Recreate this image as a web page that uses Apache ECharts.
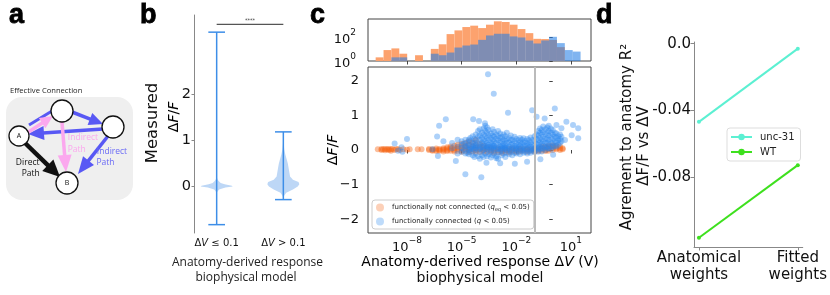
<!DOCTYPE html>
<html><head><meta charset="utf-8">
<script src="https://cdn.jsdelivr.net/npm/echarts@6/dist/echarts.min.js"></script>
<style>html,body{margin:0;padding:0;background:#fff}#c{width:830px;height:295px}</style>
</head><body><div id="c"></div>
<script>
// ===== Panel b: violin data =====
const violinCategories = ['ΔV ≤ 0.1', 'ΔV > 0.1'];
const violinPositions = [1, 2];
const violinMin = [-0.82, -0.28];
const violinMax = [3.33, 1.18];
const violinLevelsLow  = [-0.82, -0.3, -0.12, -0.06, -0.02, 0.0, 0.02, 0.05, 0.08, 0.12, 0.16, 0.2, 0.4, 3.33];
const violinDensityLow = [0, 0.0, 0.02, 0.15, 0.55, 1.0, 0.95, 0.5, 0.25, 0.12, 0.05, 0.01, 0, 0];
const violinLevelsHigh  = [-0.28, -0.2, -0.13, -0.06, 0.0, 0.05, 0.1, 0.15, 0.22, 0.3, 0.4, 0.5, 0.6, 0.7, 0.8, 0.9, 1.0, 1.18];
const violinDensityHigh = [0, 0.04, 0.18, 0.6, 0.9, 1.0, 0.95, 0.6, 0.42, 0.38, 0.33, 0.28, 0.2, 0.12, 0.06, 0.03, 0.01, 0];
const significanceLevel = 3.5;
const significanceText = '****';

// ===== Panel c: histogram (counts per log-spaced bin) =====
const histLogMin = -9.72, histLogMax = 1.528, histBinCount = 26;
const histNotConnected = [2, 8, 11, 4, 0, 3, 0, 10, 24, 167, 338, 640, 830, 525, 1000, 1900, 1660, 1000, 436, 200, 68, 65, 55, 14, 0, 0];
const histConnected    = [0, 0, 2, 2, 0, 0, 0, 4, 3, 5, 13, 19, 23, 56, 129, 178, 178, 107, 88, 49, 28, 50, 100, 30, 8, 6];

// ===== Panel c: scatter (ΔV, ΔF/F) grouped by ΔV =====
const notConnectedPts = [
 [2.5e-10,[0.02]],[4e-10,[0.0,0.03]],[5e-10,[0.02]],[6.3e-10,[-0.01,0.03]],[8e-10,[0.02]],[1e-9,[0.0,0.03]],
 [1.3e-9,[0.02,-0.02]],[1.6e-9,[0.03]],[2e-9,[0.0]],[2.5e-9,[0.02]],[3.2e-9,[0.03]],[4e-9,[0.0]],[6.3e-9,[0.02]],[1e-8,[0.01]],
 [1.4e-8,[0.02]],[3.9e-8,[0.02]],[6.3e-8,[0.02]],
 [1.6e-7,[0.0,0.03]],[2.5e-7,[-0.02,0.02,0.0]],[4e-7,[0.01,-0.03,0.04]],[6e-7,[0.0,0.03,-0.02]],
 [1e-6,[0.02,-0.04,0.05,0.0]],[1.6e-6,[0.0,0.04,-0.03,0.08]],[2.5e-6,[0.02,-0.02,0.06,0.1]],[4e-6,[0.0,0.05,-0.04,0.12]],
 [6e-6,[0.03,-0.02,0.08,0.15]],[1e-5,[0.0,0.06,-0.05,0.18,0.1]],[1.6e-5,[0.02,0.08,-0.03,0.2,0.12]],
 [2.5e-5,[0.0,0.05,0.15,-0.06,0.25]],[4e-5,[0.03,0.1,-0.04,0.22]],[6e-5,[0.0,0.06,0.14,-0.05,0.3]],
 [1e-4,[0.02,0.08,-0.06,0.18]],[1.6e-4,[0.0,0.05,-0.04,0.12]],[2.5e-4,[0.02,-0.06,0.08]],[4e-4,[0.0,-0.05,0.06]],
 [6e-4,[-0.02,0.04,-0.08]],[1e-3,[0.0,-0.06,0.05]],[1.6e-3,[-0.03,0.03,-0.08]],[2.5e-3,[0.0,-0.05,0.04]],
 [4e-3,[-0.02,0.03,-0.07]],[6e-3,[0.0,-0.04,0.05]],[1e-2,[-0.02,0.03,-0.06]],[1.6e-2,[0.0,-0.04,0.04]],
 [2.5e-2,[-0.02,0.03]],[4e-2,[0.0,-0.05,0.04]],[6e-2,[-0.02,0.02]],[0.1,[0.0,-0.04,0.04]],[0.16,[0.0,0.05,-0.03]],
 [0.25,[0.02,0.06,-0.02,0.1]],[0.4,[0.0,0.05,0.1,-0.03]],[0.6,[0.02,0.07,0.12,-0.02]],[1,[0.0,0.05,0.1,0.14]],
 [1.6,[0.02,0.06,0.12]],[2.5,[0.04,0.1,0.0]],[3.5,[0.05,0.02]]
];
const connectedPts = [
 [2.1e-9,[0.19]],[1e-8,[0.32]],[3.2e-9,[-0.02]],[5.6e-9,[-0.05]],[5e-9,[0.08]],
 [2.5e-7,[0.02]],[4.5e-7,[0.39]],[5e-7,[-0.17]],[5.8e-7,[0.7]],[1e-6,[0.25]],[1.35e-6,[0.89]],[4.8e-6,[-0.32]],
 [3e-6,[0.05,0.2]],[6e-6,[0.1,-0.1,0.3]],[1e-5,[0.15,-0.05,0.25,0.05]],[1.3e-5,[0.0,0.18]],[1.6e-5,[0.1,0.3,-0.1,-0.7]],
 [2e-5,[0.05,0.12,-0.08,0.22]],[2.5e-5,[0.0,0.15,0.3,-0.12]],[3e-5,[0.08,-0.05,0.25,0.35,0.02]],
 [4e-5,[0.1,0.18,-0.15,0.03,0.4]],[4.3e-5,[0.89]],[5e-5,[0.0,0.22,0.12,-0.2,0.32,0.06]],[6e-5,[0.05,0.28,-0.1,0.45,0.15]],
 [8e-5,[0.1,0.2,0.0,-0.18,0.38,0.55]],[9e-5,[0.84]],[1e-4,[0.05,0.3,0.15,-0.25,0.42,0.02,0.6]],[1.2e-4,[-0.79]],
 [1.3e-4,[0.1,0.22,-0.05,0.35,0.5,-0.15]],[1.6e-4,[0.0,0.18,0.3,0.45,-0.2,0.08,0.62]],[1.9e-4,[0.77]],
 [2e-4,[0.12,0.25,-0.1,0.4,0.55,0.03,0.7]],[2.3e-4,[-0.37]],[2.5e-4,[0.05,0.2,0.35,-0.18,0.5,0.1,0.65]],[2.8e-4,[2.19]],
 [3e-4,[0.0,0.15,0.28,0.42,-0.12,0.58,0.08]],[4e-4,[0.1,0.22,-0.05,0.35,0.48,0.02,-0.22]],
 [5e-4,[0.05,0.18,0.3,0.42,-0.15,0.12,0.6]],[5.8e-4,[1.63]],[6e-4,[0.0,0.12,0.25,0.38,-0.1,0.52,0.08]],
 [8e-4,[0.08,0.2,0.32,-0.18,0.45,0.02,-0.24]],[1e-3,[0.04,0.15,0.28,0.4,-0.08,0.55,-0.25]],
 [1.3e-3,[0.1,0.22,-0.05,0.35,0.02,0.48,-0.38]],[1.6e-3,[0.0,0.12,0.25,0.38,-0.15,0.06]],
 [2e-3,[0.05,0.18,0.3,-0.1,0.45,0.1]],[2.5e-3,[0.02,0.14,0.26,0.4,-0.2,0.08]],[3e-3,[0.06,0.2,0.32,-0.08,0.5,0.0]],
 [3.5e-3,[1.08]],[4e-3,[0.1,0.22,-0.12,0.35,0.04]],[5e-3,[0.0,0.15,0.28,-0.05,0.42]],[6e-3,[0.08,0.18,0.3,-0.15,0.02]],
 [8e-3,[0.04,0.12,0.25,0.38,-0.08]],[8.3e-3,[-0.4]],[1e-2,[0.0,0.1,0.2,0.32,-0.1,0.06]],[1.3e-2,[0.05,0.15,0.28,-0.05]],
 [1.6e-2,[0.02,0.12,0.22,0.35,-0.12]],[2e-2,[0.06,0.18,-0.02,0.3]],[2.5e-2,[0.0,0.1,0.22,-0.08,0.34]],
 [3e-2,[0.04,0.14,0.26,-0.05]],[3.9e-2,[-0.34]],[4e-2,[0.02,0.12,0.2,0.32,-0.1]],[5e-2,[0.06,0.16,-0.04,0.28]],
 [6e-2,[0.0,0.1,0.22,0.36,-0.08]],[7.4e-2,[1.15]],[8e-2,[0.05,0.15,0.3,-0.02]],[0.1,[0.02,0.12,0.25,0.4,-0.06]],
 [0.13,[0.08,0.18,0.32,0.45,0.0,0.96]],[0.16,[0.05,0.15,0.28,0.42,-0.05,0.55]],[0.2,[0.1,0.22,0.35,0.5,0.02,0.62]],
 [0.21,[-0.27]],[0.25,[0.06,0.18,0.3,0.45,0.58,-0.04]],[0.3,[0.12,0.25,0.38,0.52,0.04,0.68]],[0.36,[0.91]],
 [0.4,[0.08,0.2,0.32,0.45,0.6,0.0]],[0.5,[0.1,0.22,0.35,0.5,0.65,0.04]],[0.6,[0.05,0.18,0.3,0.42,0.55,0.7]],
 [0.8,[0.1,0.22,0.36,0.5,0.62,0.02]],[1,[0.08,0.2,0.32,0.45,0.58]],[1.05,[-0.14]],[1.3,[0.12,0.25,0.38,0.5,1.2]],
 [1.6,[0.1,0.22,0.35,0.48,0.72]],[2,[0.15,0.28,0.4]],[2.5,[0.2,0.32,0.45]],[3,[0.25,0.38,0.63]],
 [4.7,[0.29]],[5.6,[0.82]],[11,[0.43]],[13,[0.72]],[25,[0.63,0.34]]
];
const thresholdDV = 0.1;

// ===== Panel d =====
const dCategories = ['Anatomical\nweights', 'Fitted\nweights'];
const unc31Values = [-0.047, -0.003];
const wtValues = [-0.1166, -0.073];

// ===== axis tick values =====
const bTicks = [0, 1, 2];
const cXTicksExp = [-8, -5, -2, 1];
const cHistYTicksExp = [0, 2];
const cYTicks = [-2, -1, 0, 1, 2];
const dYTicks = [0, -0.04, -0.08];

// ---------- build ----------
const flat = g => { const out = []; g.forEach(([x, ys]) => ys.forEach(y => out.push([Math.log10(x), y]))); return out; };
const binW = (histLogMax - histLogMin) / histBinCount;
const histData = arr => arr.map((c, i) => [histLogMin + i * binW, histLogMin + (i + 1) * binW, c > 0 ? Math.log10(c) : -1]);

const FONT = 'DejaVu Sans';
const supRich = {
  b: {fontSize: 13, fontFamily: FONT, lineHeight: 18, verticalAlign: 'bottom', color: '#111'},
  s: {fontSize: 9, fontFamily: FONT, lineHeight: 10, verticalAlign: 'top', color: '#111'}
};
const expLabel = v => '{b|10}{s|' + (v < 0 ? '\u2212' + (-v) : v) + '}';

function arrow(x1, y1, x2, y2, color, lw, hl, hw) {
  const dx = x2 - x1, dy = y2 - y1, L = Math.hypot(dx, dy), ux = dx / L, uy = dy / L, px = -uy, py = ux;
  const bx = x2 - ux * hl, by = y2 - uy * hl;
  return [
    {type: 'line', shape: {x1, y1, x2: bx + ux, y2: by + uy}, style: {stroke: color, lineWidth: lw}},
    {type: 'polygon', shape: {points: [[x2, y2], [bx + px * hw / 2, by + py * hw / 2], [bx - px * hw / 2, by - py * hw / 2]]}, style: {fill: color}}
  ];
}
const BLUE = '#5858f4', PINK = '#fba8ee';
const diagram = [].concat(
  [{type: 'rect', shape: {x: 6, y: 97, width: 127, height: 103, r: 16}, style: {fill: '#efefef'}}],
  [{type: 'line', shape: {x1: 29, y1: 125, x2: 52, y2: 111}, style: {stroke: BLUE, lineWidth: 3}}],
  arrow(72, 112, 103, 124, BLUE, 3.5, 14, 13),
  arrow(103, 129, 28, 134, BLUE, 3.5, 16, 14),
  arrow(27, 133, 53, 116, PINK, 3.5, 13, 12),
  arrow(62, 122, 66, 172, PINK, 3.5, 17, 14),
  arrow(108, 136, 78, 174, BLUE, 3.5, 17, 14),
  arrow(24, 142, 60, 177, '#111', 4.5, 17, 16),
  [[62, 111, 11], [113, 127, 11], [19, 136, 10], [67, 183, 11]].map(c => ({type: 'circle', shape: {cx: c[0], cy: c[1], r: c[2]}, style: {fill: '#fff', stroke: '#111', lineWidth: 1.3}})),
  [
    ['Effective Connection', 10, 91, '#222', 'left', 7.6],
    ['A', 19, 136, '#111', 'center', 7], ['B', 67, 183, '#111', 'center', 7],
    ['Direct', 27.7, 163, '#111', 'center', 8.5], ['Path', 30.7, 174, '#111', 'center', 8.5],
    ['Indirect', 83, 138, PINK, 'center', 8.5], ['Path', 76.7, 149.5, PINK, 'center', 8.5],
    ['Indirect', 112, 152, '#6a6af6', 'center', 8.5], ['Path', 105.5, 162.5, '#6a6af6', 'center', 8.5]
  ].map(t => ({type: 'text', x: t[1], y: t[2], style: {text: t[0], fill: t[3], align: t[4], verticalAlign: 'middle', font: t[5] + 'px "Open Sans"'}}))
);

const letters = [['a', 9], ['b', 140], ['c', 310], ['d', 596]].map(l => ({
  type: 'text', x: l[1], y: 16, style: {text: l[0], fill: '#000', align: 'left', verticalAlign: 'middle', font: 'bold 27px "Liberation Sans"', stroke: '#000', lineWidth: 0.8}
}));

const italicRich = sz => ({
  n: {fontSize: sz, fontFamily: FONT, color: '#111'},
  i: {fontSize: sz, fontFamily: FONT, fontStyle: 'italic', color: '#111'}
});
const titles = [
  {type: 'text', x: 152.5, y: 123, rotation: Math.PI / 2, style: {text: 'Measured', fill: '#111', align: 'center', verticalAlign: 'middle', font: '16.5px "DejaVu Sans"'}},
  {type: 'text', x: 174, y: 117, rotation: Math.PI / 2, style: {text: '{n|Δ}{i|F}{n|/}{i|F}', rich: italicRich(14), align: 'center', verticalAlign: 'middle'}},
  {type: 'text', x: 247.5, y: 263, style: {text: 'Anatomy-derived response', fill: '#222', align: 'center', verticalAlign: 'middle', font: '12px "Open Sans"'}},
  {type: 'text', x: 246, y: 278, style: {text: 'biophysical model', fill: '#222', align: 'center', verticalAlign: 'middle', font: '12px "Open Sans"'}},
  {type: 'text', x: 480, y: 262, style: {text: '{n|Anatomy-derived response Δ}{i|V}{n| (V)}', rich: italicRich(14), align: 'center', verticalAlign: 'middle'}},
  {type: 'text', x: 480, y: 278, style: {text: 'biophysical model', fill: '#111', align: 'center', verticalAlign: 'middle', font: '14px "DejaVu Sans"'}},
  {type: 'text', x: 333, y: 150, rotation: Math.PI / 2, style: {text: '{n|Δ}{i|F}{n|/}{i|F}', rich: italicRich(14), align: 'center', verticalAlign: 'middle'}},
  {type: 'text', x: 627, y: 137, rotation: Math.PI / 2, style: {text: 'Agrement to anatomy R²', fill: '#111', align: 'center', verticalAlign: 'middle', font: '15px "DejaVu Sans"'}},
  {type: 'text', x: 644, y: 146, rotation: Math.PI / 2, style: {text: 'ΔF/F vs ΔV', fill: '#111', align: 'center', verticalAlign: 'middle', font: '15px "DejaVu Sans"'}}
];

const violinHalfWidth = 0.24, capHalf = 0.125;
const violinLevels = [violinLevelsLow, violinLevelsHigh];
const violinDensity = [violinDensityLow, violinDensityHigh];
const VLINE = '#3d8ee8';

const axGrey = '#888';
const noSplit = {show: false};

const option = {
  animation: false,
  backgroundColor: '#fff',
  textStyle: {fontFamily: FONT},
  grid: [
    {left: 194, top: 15, width: 112, height: 218},
    {left: 368, top: 19, width: 223, height: 42, show: true, borderColor: '#444', borderWidth: 1},
    {left: 368, top: 67, width: 223, height: 166, show: true, borderColor: '#444', borderWidth: 1},
    {left: 694, top: 42, width: 109, height: 205}
  ],
  xAxis: [
    {gridIndex: 0, type: 'value', min: 0.66, max: 2.34, splitLine: noSplit,
     axisLine: {show: false}, axisTick: {show: false},
     axisLabel: {customValues: violinPositions, margin: 5, fontSize: 10,
       formatter: v => { const s = violinCategories[violinPositions.indexOf(v)] || ''; return '{n|Δ}{i|V}{n|' + s.slice(2) + '}'; },
       rich: italicRich(10)}},
    {gridIndex: 1, type: 'value', min: -10.14, max: 2.1, splitLine: noSplit,
     axisLine: {show: false}, axisTick: {show: true, customValues: cXTicksExp, length: 3.5, lineStyle: {color: '#444'}},
     axisLabel: {show: false}},
    {gridIndex: 2, type: 'value', min: -10.14, max: 2.1, splitLine: noSplit,
     axisLine: {show: false}, axisTick: {show: true, customValues: cXTicksExp, length: 3.5, lineStyle: {color: '#444'}},
     axisLabel: {customValues: cXTicksExp, margin: 3, formatter: expLabel, rich: supRich}},
    {gridIndex: 3, type: 'value', min: -0.05, max: 1.05, splitLine: noSplit,
     axisLine: {show: true, onZero: false, lineStyle: {color: axGrey}},
     axisTick: {show: true, customValues: [0, 1], length: 3.5, lineStyle: {color: axGrey}},
     axisLabel: {customValues: [0, 1], margin: 3, fontSize: 15, lineHeight: 17, color: '#111',
       formatter: v => dCategories[v]}}
  ],
  yAxis: [
    {gridIndex: 0, type: 'value', min: -1, max: 3.7, splitLine: noSplit,
     axisLine: {show: true, onZero: false, lineStyle: {color: axGrey}},
     axisTick: {show: true, customValues: bTicks, length: 2.5, lineStyle: {color: axGrey}},
     axisLabel: {customValues: bTicks, margin: 3, fontSize: 14.5, color: '#111'}},
    {gridIndex: 1, type: 'value', min: 0, max: 3.47, splitLine: noSplit,
     axisLine: {show: false}, axisTick: {show: true, customValues: cHistYTicksExp, length: 3.5, lineStyle: {color: '#444'}},
     axisLabel: {customValues: cHistYTicksExp, margin: 12, formatter: expLabel, rich: supRich}},
    {gridIndex: 2, type: 'value', min: -2.4, max: 2.4, splitLine: noSplit,
     axisLine: {show: false}, axisTick: {show: true, customValues: cYTicks, length: 3.5, lineStyle: {color: '#444'}},
     axisLabel: {customValues: cYTicks, margin: 9, fontSize: 13, color: '#111',
       formatter: v => v < 0 ? '\u2212' + (-v) : String(v)}},
    {gridIndex: 3, type: 'value', min: -0.1222, max: 0.001, splitLine: noSplit,
     axisLine: {show: true, onZero: false, lineStyle: {color: axGrey}},
     axisTick: {show: true, customValues: dYTicks, length: 3.5, lineStyle: {color: axGrey}},
     axisLabel: {customValues: dYTicks, margin: 3, fontSize: 15, color: '#111',
       formatter: v => v === 0 ? '0.0' : v.toFixed(2)}}
  ],
  legend: [
    {data: ['not connected', 'connected'], left: 372, top: 200, orient: 'vertical',
     icon: 'circle', itemWidth: 14, itemHeight: 8, itemGap: 5, padding: [3, 4, 3, 4],
     backgroundColor: 'rgba(255,255,255,0.85)', borderColor: '#ccc', borderWidth: 1, borderRadius: 3,
     itemStyle: {opacity: 0.3},
     formatter: n => n === 'connected'
       ? '{n|functionally connected (}{i|q}{n| < 0.05)}'
       : '{n|functionally not connected (}{i|q}{s|eq}{n| < 0.05)}',
     textStyle: {fontSize: 7, lineHeight: 9, rich: {
       n: {fontSize: 7, fontFamily: FONT, color: '#222'},
       i: {fontSize: 7, fontFamily: FONT, fontStyle: 'italic', color: '#222'},
       s: {fontSize: 5, fontFamily: FONT, color: '#222', verticalAlign: 'bottom', lineHeight: 6}}}},
    {data: ['unc-31', 'WT'], left: 727, top: 128, orient: 'vertical',
     itemWidth: 21, itemHeight: 8, itemGap: 5, padding: [4, 6, 4, 3],
     backgroundColor: '#fff', borderColor: '#ddd', borderWidth: 1, borderRadius: 3,
     textStyle: {fontSize: 10, color: '#222', fontFamily: FONT, padding: [0, 0, 0, 3]}}
  ],
  graphic: {elements: [].concat(diagram, letters, titles)},
  series: [
    {type: 'custom', name: 'violins', xAxisIndex: 0, yAxisIndex: 0, data: [[0], [1]], silent: true,
     renderItem: function (params, api) {
       const i = api.value(0), pos = violinPositions[i];
       const lv = violinLevels[i], wd = violinDensity[i], L = [], R = [];
       for (let k = 0; k < lv.length; k++) {
         L.push(api.coord([pos - wd[k] * violinHalfWidth, lv[k]]));
         R.push(api.coord([pos + wd[k] * violinHalfWidth, lv[k]]));
       }
       const top = api.coord([pos, violinMax[i]]), bot = api.coord([pos, violinMin[i]]);
       const cl = api.coord([pos - capHalf, 0])[0], cr = api.coord([pos + capHalf, 0])[0];
       const st = {stroke: VLINE, lineWidth: 1.5};
       return {type: 'group', children: [
         {type: 'polygon', shape: {points: L.concat(R.reverse())}, style: {fill: '#bdd7f6'}},
         {type: 'line', shape: {x1: top[0], y1: top[1], x2: bot[0], y2: bot[1]}, style: st},
         {type: 'line', shape: {x1: cl, y1: top[1], x2: cr, y2: top[1]}, style: st},
         {type: 'line', shape: {x1: cl, y1: bot[1], x2: cr, y2: bot[1]}, style: st}
       ]};
     }},
    {type: 'custom', name: 'significance', xAxisIndex: 0, yAxisIndex: 0, silent: true,
     data: [[violinPositions[0], violinPositions[1], significanceLevel]],
     renderItem: function (params, api) {
       const a = api.coord([api.value(0), api.value(2)]), b = api.coord([api.value(1), api.value(2)]);
       return {type: 'group', children: [
         {type: 'line', shape: {x1: a[0], y1: a[1], x2: b[0], y2: b[1]}, style: {stroke: '#555', lineWidth: 1.3}},
         {type: 'text', x: (a[0] + b[0]) / 2, y: a[1] - 1, style: {text: significanceText, font: '5px "DejaVu Sans"', fill: '#333', align: 'center', verticalAlign: 'bottom'}}
       ]};
     }},
    {type: 'custom', name: 'hist not connected', xAxisIndex: 1, yAxisIndex: 1, silent: true, clip: true,
     data: histData(histNotConnected),
     renderItem: function (params, api) {
       if (api.value(2) < 0) return null;
       const p0 = api.coord([api.value(0), 0]), p1 = api.coord([api.value(1), api.value(2)]);
       return {type: 'rect', shape: {x: p0[0], y: p1[1], width: p1[0] - p0[0], height: p0[1] - p1[1]}, style: {fill: '#fca26e'}};
     }},
    {type: 'custom', name: 'hist connected', xAxisIndex: 1, yAxisIndex: 1, silent: true, clip: true,
     data: histData(histConnected),
     renderItem: function (params, api) {
       if (api.value(2) < 0) return null;
       const p0 = api.coord([api.value(0), 0]), p1 = api.coord([api.value(1), api.value(2)]);
       return {type: 'rect', shape: {x: p0[0], y: p1[1], width: p1[0] - p0[0], height: p0[1] - p1[1]}, style: {fill: 'rgba(36,126,229,0.58)'}};
     }},
    {type: 'scatter', name: 'not connected', xAxisIndex: 2, yAxisIndex: 2, data: flat(notConnectedPts),
     symbol: 'circle', symbolSize: 6, silent: true, itemStyle: {color: 'rgb(245,100,20)', opacity: 0.42}},
    {type: 'scatter', name: 'connected', xAxisIndex: 2, yAxisIndex: 2, data: flat(connectedPts),
     symbol: 'circle', symbolSize: 6, silent: true, itemStyle: {color: 'rgb(40,135,240)', opacity: 0.38},
     markLine: {silent: true, symbol: 'none', label: {show: false}, lineStyle: {color: '#bbb', width: 2, type: 'solid', opacity: 1},
       data: [{xAxis: Math.log10(thresholdDV)}]}},
    {type: 'line', name: 'unc-31', xAxisIndex: 3, yAxisIndex: 3, data: unc31Values.map((v, i) => [i, v]),
     symbol: 'circle', symbolSize: 4, showSymbol: true, lineStyle: {width: 2, color: '#5cf0d2'}, itemStyle: {color: '#5cf0d2'}},
    {type: 'line', name: 'WT', xAxisIndex: 3, yAxisIndex: 3, data: wtValues.map((v, i) => [i, v]),
     symbol: 'circle', symbolSize: 4, showSymbol: true, lineStyle: {width: 2, color: '#3ee01e'}, itemStyle: {color: '#3ee01e'}}
  ]
};
const chart = echarts.init(document.getElementById('c'), null, {renderer: 'canvas'});
chart.setOption(option);
</script>
</body></html>
